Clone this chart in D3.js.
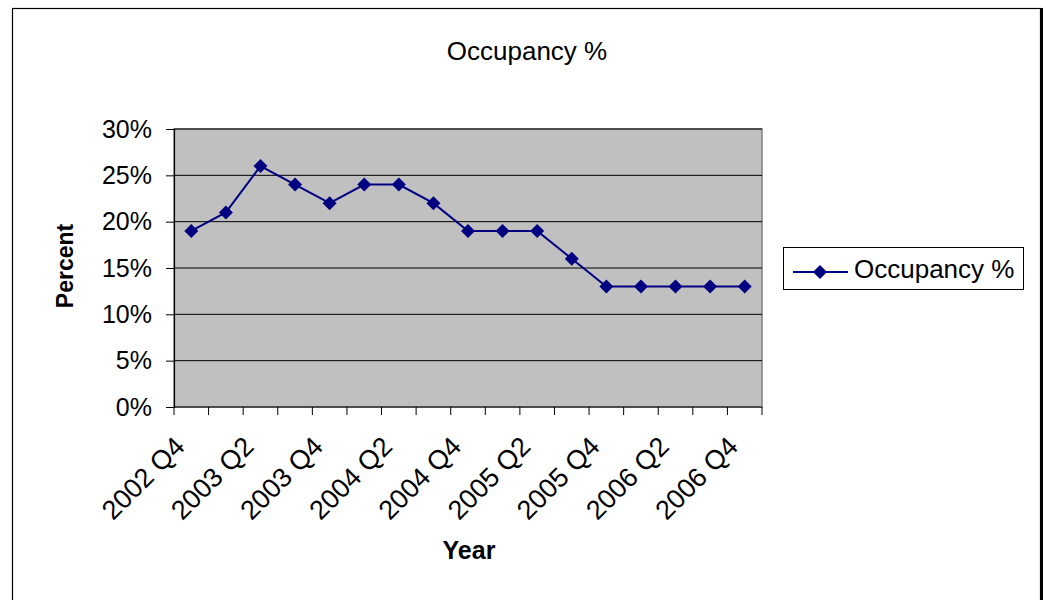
<!DOCTYPE html>
<html>
<head>
<meta charset="utf-8">
<script src="https://cdn.jsdelivr.net/npm/d3@7"></script>
<style>
  body { margin: 0; background: #fff; }
  text { font-family: "Liberation Sans", Arial, sans-serif; fill: #000; }
</style>
</head>
<body>
<div id="wrapper"></div>
<script>
// data
const quarters = [
  "2002 Q4", "2003 Q1", "2003 Q2", "2003 Q3", "2003 Q4",
  "2004 Q1", "2004 Q2", "2004 Q3", "2004 Q4",
  "2005 Q1", "2005 Q2", "2005 Q3", "2005 Q4",
  "2006 Q1", "2006 Q2", "2006 Q3", "2006 Q4"
]
const occupancy = [0.19, 0.21, 0.26, 0.24, 0.22, 0.24, 0.24, 0.22, 0.19,
  0.19, 0.19, 0.16, 0.13, 0.13, 0.13, 0.13, 0.13]
const xLabels = ["2002 Q4", "2003 Q2", "2003 Q4", "2004 Q2", "2004 Q4",
  "2005 Q2", "2005 Q4", "2006 Q2", "2006 Q4"]
const yTicks = [0, 0.05, 0.10, 0.15, 0.20, 0.25, 0.30]
const seriesName = "Occupancy %"

const dataset = quarters.map((q, i) => ({ quarter: q, value: occupancy[i] }))

// dimensions
const dimensions = {
  width: 1046,
  height: 600,
  plot: { left: 174, right: 762, top: 129, bottom: 407 },
}
const navy = "#000080"

const svg = d3.select("#wrapper")
  .append("svg")
    .attr("width", dimensions.width)
    .attr("height", dimensions.height)

// chart frame
svg.append("rect")
  .attr("x", 12.5).attr("y", 8.5)
  .attr("width", 1028).attr("height", 620)
  .attr("fill", "#fff")
  .attr("stroke", "#000")
  .attr("stroke-width", 1.2)
svg.append("line")
  .attr("x1", 1041.5).attr("x2", 1041.5)
  .attr("y1", 8).attr("y2", 600)
  .attr("stroke", "#000")
  .attr("stroke-width", 3)

// scales
const xScale = d3.scaleBand()
  .domain(quarters)
  .range([dimensions.plot.left, dimensions.plot.right])
  .padding(0)

const yScale = d3.scaleLinear()
  .domain([0, 0.30])
  .range([dimensions.plot.bottom, dimensions.plot.top])

const cx = q => xScale(q) + xScale.bandwidth() / 2

// plot area
svg.append("rect")
  .attr("x", dimensions.plot.left)
  .attr("y", dimensions.plot.top)
  .attr("width", dimensions.plot.right - dimensions.plot.left)
  .attr("height", dimensions.plot.bottom - dimensions.plot.top)
  .attr("fill", "#c0c0c0")
  .attr("stroke", "#808080")
  .attr("stroke-width", 1.5)

// gridlines
svg.append("g")
  .selectAll("line")
  .data(yTicks.filter(d => d > 0))
  .join("line")
    .attr("x1", dimensions.plot.left)
    .attr("x2", dimensions.plot.right)
    .attr("y1", d => yScale(d))
    .attr("y2", d => yScale(d))
    .attr("stroke", "#000")
    .attr("stroke-width", 1)

// y axis
const yAxis = svg.append("g")
  .attr("transform", `translate(${dimensions.plot.left},0)`)
  .call(d3.axisLeft(yScale)
    .tickValues(yTicks)
    .tickSize(8)
    .tickPadding(14)
    .tickFormat(d3.format(".0%")))
yAxis.select(".domain").attr("stroke", "#000").attr("stroke-width", 1.2)
yAxis.selectAll(".tick line").attr("stroke", "#000")
yAxis.selectAll(".tick text")
  .attr("font-size", 25)
  .attr("font-family", "Liberation Sans, Arial, sans-serif")
  .attr("fill", "#000")

// x axis
const xAxisG = svg.append("g")
xAxisG.append("line")
  .attr("x1", dimensions.plot.left)
  .attr("x2", dimensions.plot.right)
  .attr("y1", dimensions.plot.bottom)
  .attr("y2", dimensions.plot.bottom)
  .attr("stroke", "#000")
  .attr("stroke-width", 1.2)
const boundaries = [...quarters.map(q => xScale(q)), xScale.range()[1]]
xAxisG.selectAll(".xtick")
  .data(boundaries)
  .join("line")
    .attr("class", "xtick")
    .attr("x1", d => d).attr("x2", d => d)
    .attr("y1", dimensions.plot.bottom)
    .attr("y2", dimensions.plot.bottom + 8)
    .attr("stroke", "#000")
xAxisG.selectAll(".xlabel")
  .data(xLabels)
  .join("text")
    .attr("class", "xlabel")
    .attr("transform", d => `translate(${cx(d) - 5},${dimensions.plot.bottom + 41}) rotate(-45)`)
    .attr("text-anchor", "end")
    .attr("font-size", 27)
    .text(d => d)

// line + markers
const lineGenerator = d3.line()
  .x(d => cx(d.quarter))
  .y(d => yScale(d.value))

svg.append("path")
  .attr("d", lineGenerator(dataset))
  .attr("fill", "none")
  .attr("stroke", navy)
  .attr("stroke-width", 2)

const diamond = "M0,-7L7,0L0,7L-7,0Z"
svg.append("g")
  .selectAll("path")
  .data(dataset)
  .join("path")
    .attr("d", diamond)
    .attr("transform", d => `translate(${cx(d.quarter)},${yScale(d.value)})`)
    .attr("fill", navy)

// titles
svg.append("text")
  .attr("x", 527)
  .attr("y", 60)
  .attr("text-anchor", "middle")
  .attr("font-size", 26)
  .text("Occupancy %")

svg.append("text")
  .attr("transform", "translate(73,266) rotate(-90)")
  .attr("text-anchor", "middle")
  .attr("font-size", 23)
  .attr("font-weight", "bold")
  .text("Percent")

svg.append("text")
  .attr("x", 469)
  .attr("y", 559)
  .attr("text-anchor", "middle")
  .attr("font-size", 25)
  .attr("font-weight", "bold")
  .text("Year")

// legend
const legend = svg.append("g")
legend.append("rect")
  .attr("x", 783.5).attr("y", 247.5)
  .attr("width", 240).attr("height", 42)
  .attr("fill", "#fff")
  .attr("stroke", "#000")
  .attr("stroke-width", 1)
legend.append("line")
  .attr("x1", 793).attr("x2", 848)
  .attr("y1", 272).attr("y2", 272)
  .attr("stroke", navy)
  .attr("stroke-width", 2)
legend.append("path")
  .attr("d", diamond)
  .attr("transform", "translate(820,272)")
  .attr("fill", navy)
legend.append("text")
  .attr("x", 854)
  .attr("y", 278)
  .attr("font-size", 26)
  .text(seriesName)
</script>
</body>
</html>
